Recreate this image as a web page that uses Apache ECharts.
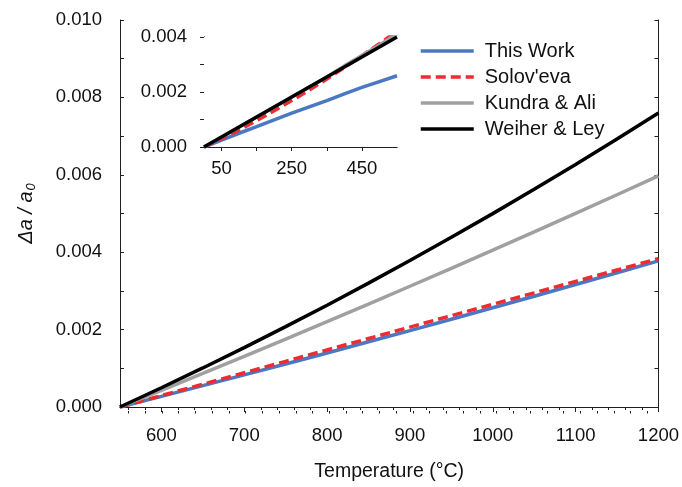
<!DOCTYPE html>
<html>
<head>
<meta charset="utf-8">
<script src="https://cdn.jsdelivr.net/npm/echarts@6/dist/echarts.min.js"></script>
<style>
  html, body { margin: 0; padding: 0; background: #fff; }
  #chart { width: 682px; height: 487px; }
</style>
</head>
<body>
<div id="chart"></div>
<script>
// Main plot (550 - 1200 C)
var temps = [550, 600, 650, 700, 750, 800, 850, 900, 950, 1000, 1050, 1100, 1150, 1200];
var thisWork = [0, 0.000274, 0.000551, 0.00083, 0.001112, 0.001397, 0.001685, 0.001975, 0.002268, 0.002564, 0.002863, 0.003164, 0.003468, 0.003775];
var solovEva = [0, 0.000295, 0.00059, 0.000885, 0.00118, 0.001475, 0.00177, 0.002065, 0.00236, 0.002655, 0.00295, 0.003245, 0.00354, 0.003835];
var kundraAli = [0, 0.000432, 0.000869, 0.00131, 0.001756, 0.002206, 0.002661, 0.00312, 0.003584, 0.004052, 0.004525, 0.005002, 0.005484, 0.00597];
var weiherLey = [0, 0.000497, 0.001009, 0.001535, 0.002076, 0.002631, 0.003201, 0.003785, 0.004384, 0.004997, 0.005625, 0.006267, 0.006924, 0.007595];

// Inset (0 - 550 C)
var insetTemps = [0, 50, 100, 150, 200, 250, 300, 350, 400, 450, 500, 550];
var insetThisWork = [0, 0.00025, 0.0005, 0.00074, 0.00099, 0.00123, 0.00146, 0.00169, 0.00193, 0.00217, 0.00238, 0.00259];
var insetSolovEva = [0, 0.0003, 0.00062, 0.00096, 0.00132, 0.00169, 0.00207, 0.00247, 0.00289, 0.00332, 0.00376, 0.00421];
var insetKundraAli = [0, 0.000364, 0.000727, 0.001091, 0.001455, 0.001818, 0.002182, 0.002545, 0.00295, 0.00333, 0.00371, 0.00412];
var insetWeiherLey = [0, 0.000364, 0.000727, 0.001091, 0.001455, 0.001818, 0.002182, 0.002545, 0.002909, 0.003273, 0.003636, 0.004];

var xMajorTicks = [600, 700, 800, 900, 1000, 1100, 1200];
var xMinorTicks = [560, 580, 600, 620, 640, 660, 680, 700, 720, 740, 760, 780, 800, 820, 840, 860, 880, 900, 920, 940, 960, 980, 1000, 1020, 1040, 1060, 1080, 1100, 1120, 1140, 1160, 1180];
var insetXLabels = [50, 250, 450];
var insetXTicks = [50, 150, 250, 350, 450];

var names = ['This Work', "Solov'eva", 'Kundra & Ali', 'Weiher & Ley'];
var colors = ['#4a78c2', '#ee2b2f', '#a0a0a0', '#000000'];

var FONT = '"Liberation Sans", Arial, sans-serif';
var AXIS_COLOR = '#231f20';

function pairs(xs, ys) {
  return xs.map(function(x, i) { return [x, ys[i]]; });
}

function makeLine(name, color, data, idx) {
  return {
    name: name,
    type: 'line',
    data: data,
    xAxisIndex: idx,
    yAxisIndex: idx === 0 ? 0 : 3,
    symbol: 'none',
    smooth: false,
    lineStyle: {
      color: color,
      width: 3.5,
      type: name === "Solov'eva" ? [10, 5] : 'solid'
    },
    itemStyle: {color: color},
    z: 3
  };
}

var chart = echarts.init(document.getElementById('chart'));

var mainSets = [thisWork, solovEva, kundraAli, weiherLey];
var insetSets = [insetThisWork, insetSolovEva, insetKundraAli, insetWeiherLey];
var series = [];
for (var i = 0; i < names.length; i++) {
  series.push(makeLine(names[i], colors[i], pairs(temps, mainSets[i]), 0));
}
for (var j = 0; j < names.length; j++) {
  series.push(makeLine(names[j], colors[j], pairs(insetTemps, insetSets[j]), 3));
}

var lineCommon = {show: true, lineStyle: {color: AXIS_COLOR, width: 1}};
var plainNum = function(v) { return String(v); };

chart.setOption({
  animation: false,
  backgroundColor: '#fff',
  textStyle: {fontFamily: FONT},
  grid: [
    {left: 120, top: 20, width: 544, height: 391},
    {left: 204, top: 37, width: 193, height: 110, show: true, backgroundColor: '#fff', borderWidth: 0, z: 1},
    {left: 120, top: 20, width: 544, height: 391}
  ],
  legend: {
    orient: 'vertical',
    left: 419,
    top: 41,
    padding: 0,
    itemWidth: 53,
    itemHeight: 20,
    itemGap: 6,
    data: names,
    itemStyle: {opacity: 0},
    lineStyle: {width: 3.5},
    textStyle: {fontSize: 20, color: '#111', fontFamily: FONT, padding: [0, 0, 0, 6]}
  },
  xAxis: [
    {
      gridIndex: 0, type: 'value', position: 'bottom', min: 550, max: 1200,
      axisLine: lineCommon,
      axisTick: {show: true, customValues: xMajorTicks, length: 5, inside: false, lineStyle: {color: AXIS_COLOR}},
      axisLabel: {customValues: xMajorTicks, fontSize: 18.5, color: '#111', margin: 19, formatter: plainNum},
      splitLine: {show: false},
      name: 'Temperature (°C)', nameLocation: 'middle', nameGap: 55,
      nameTextStyle: {fontSize: 19.5, color: '#111'}
    },
    {
      gridIndex: 0, type: 'value', position: 'top', min: 550, max: 1200,
      axisLine: lineCommon,
      axisTick: {show: true, customValues: xMinorTicks, length: 3, inside: true, lineStyle: {color: AXIS_COLOR}},
      axisLabel: {show: false},
      splitLine: {show: false}
    },
    {
      gridIndex: 2, type: 'value', position: 'bottom', min: 550, max: 1200,
      axisLine: {show: false},
      axisTick: {show: true, customValues: xMinorTicks, length: 2.5, inside: false, lineStyle: {color: AXIS_COLOR}},
      axisLabel: {show: false},
      splitLine: {show: false}
    },
    {
      gridIndex: 1, type: 'value', position: 'bottom', min: 0, max: 550,
      axisLine: lineCommon,
      axisTick: {show: false},
      axisLabel: {customValues: insetXLabels, fontSize: 18.5, color: '#111', margin: 12, formatter: plainNum},
      splitLine: {show: false}
    },
    {
      gridIndex: 1, type: 'value', position: 'top', min: 0, max: 550,
      axisLine: lineCommon,
      axisTick: {show: true, customValues: insetXTicks, length: 4, inside: true, lineStyle: {color: AXIS_COLOR}},
      axisLabel: {show: false},
      splitLine: {show: false}
    }
  ],
  yAxis: [
    {
      gridIndex: 0, type: 'value', position: 'left', min: 0, max: 0.01, interval: 0.002,
      axisLine: lineCommon,
      axisTick: {show: true, inside: true, length: 4, lineStyle: {color: AXIS_COLOR}},
      minorTick: {show: true, splitNumber: 2, length: 4, lineStyle: {color: AXIS_COLOR}},
      axisLabel: {fontSize: 18.5, color: '#111', margin: 18, formatter: function(v) { return v.toFixed(3); }},
      splitLine: {show: false},
      name: '{t|Δa / a}{s|0}', nameLocation: 'middle', nameGap: 82,
      nameTextStyle: {
        color: '#111',
        rich: {
          t: {fontSize: 20, fontStyle: 'italic', fontFamily: FONT, lineHeight: 22, verticalAlign: 'top'},
          s: {fontSize: 13, fontStyle: 'italic', fontFamily: FONT, lineHeight: 14, verticalAlign: 'bottom', padding: [10, 0, 0, 1]}
        }
      }
    },
    {
      gridIndex: 0, type: 'value', position: 'right', min: 0, max: 0.01, interval: 0.002,
      axisLine: lineCommon,
      axisTick: {show: true, inside: true, length: 4, lineStyle: {color: AXIS_COLOR}},
      minorTick: {show: true, splitNumber: 2, length: 4, lineStyle: {color: AXIS_COLOR}},
      axisLabel: {show: false},
      splitLine: {show: false}
    },
    {
      gridIndex: 2, type: 'value', show: false, min: 0, max: 0.01
    },
    {
      gridIndex: 1, type: 'value', position: 'left', min: 0, max: 0.004, interval: 0.002,
      axisLine: lineCommon,
      axisTick: {show: true, inside: true, length: 4, lineStyle: {color: AXIS_COLOR}},
      minorTick: {show: true, splitNumber: 2, length: 4, lineStyle: {color: AXIS_COLOR}},
      axisLabel: {fontSize: 18.5, color: '#111', margin: 17, formatter: function(v) { return v.toFixed(3); }},
      splitLine: {show: false}
    },
    {
      gridIndex: 1, type: 'value', position: 'right', min: 0, max: 0.004, interval: 0.002,
      axisLine: lineCommon,
      axisTick: {show: true, inside: true, length: 4, lineStyle: {color: AXIS_COLOR}},
      minorTick: {show: true, splitNumber: 2, length: 4, lineStyle: {color: AXIS_COLOR}},
      axisLabel: {show: false},
      splitLine: {show: false}
    }
  ],
  series: series
});
</script>
</body>
</html>
